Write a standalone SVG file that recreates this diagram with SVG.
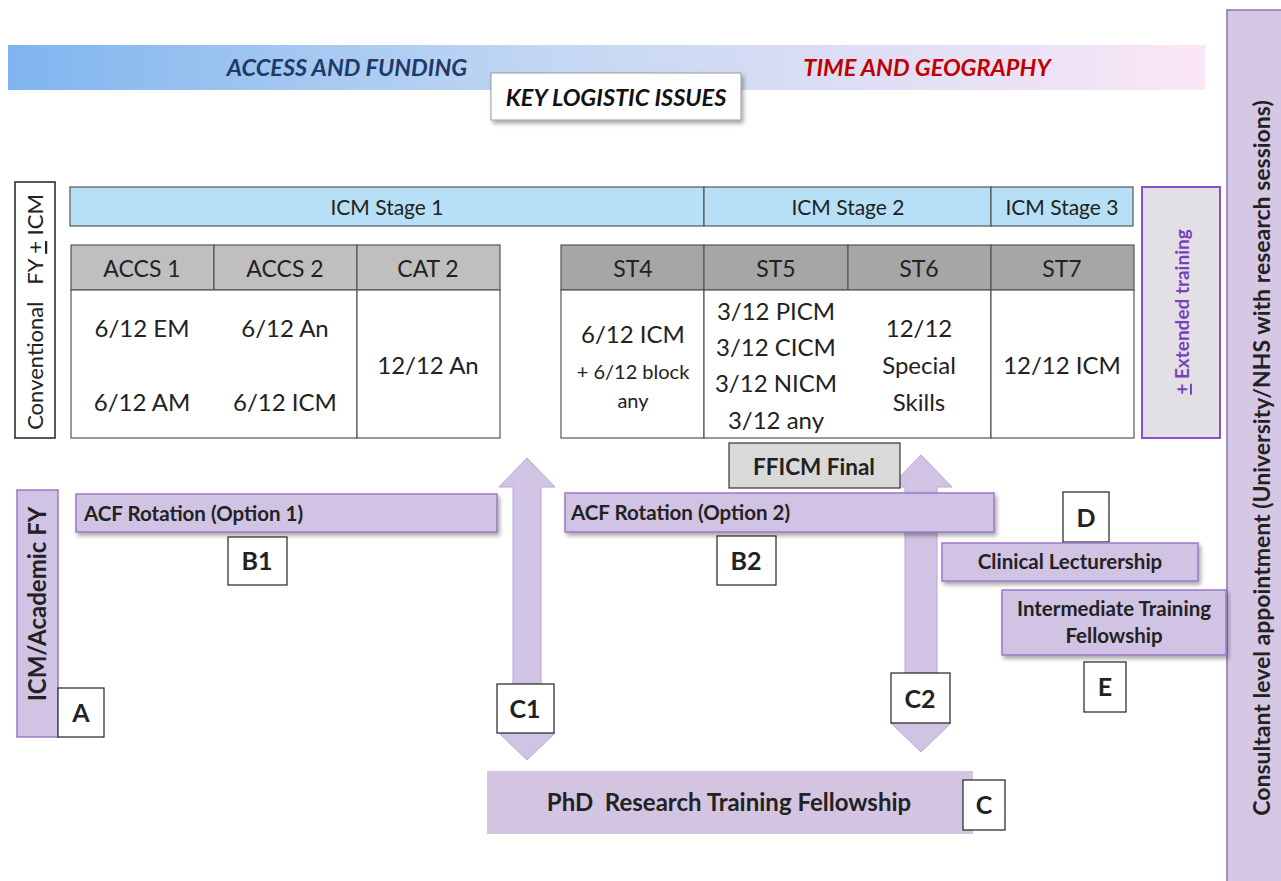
<svg xmlns="http://www.w3.org/2000/svg" width="1281" height="881" viewBox="0 0 1281 881">
<defs>
<linearGradient id="banner" x1="0" y1="0" x2="1" y2="0">
<stop offset="0" stop-color="#7fb5ef"/>
<stop offset="0.45" stop-color="#c3d7f3"/>
<stop offset="1" stop-color="#fbe6f6"/>
</linearGradient>
<filter id="sh" x="-5%" y="-20%" width="110%" height="160%">
<feDropShadow dx="2" dy="3" stdDeviation="2" flood-color="#000" flood-opacity="0.35"/>
</filter>
</defs>
<style>
text{font-family:Lato,"Open Sans","Liberation Sans",sans-serif;fill:#222}
.c{text-anchor:middle}
.b{font-weight:bold}
.stage{fill:#b7e0f6;stroke:#555;stroke-width:1.2}
.h1{fill:#bfbfbf;stroke:#555;stroke-width:1.2}
.h2{fill:#a6a6a6;stroke:#555;stroke-width:1.2}
.cell{fill:#fff;stroke:#555;stroke-width:1.2}
.pur{fill:#d1c3e3;stroke:#9a78c9;stroke-width:1.5}
.lbl{fill:#fff;stroke:#222;stroke-width:1.2}
.arr{fill:#d1c3e3;stroke:#b9a6d6;stroke-width:1}
.t24{font-size:24px}
.t23{font-size:23px}
.t20{font-size:20px}
.t21{font-size:21px}
.bar{font-size:20.5px;font-weight:bold}
.lt{font-size:25px;font-weight:bold}
.hdr{font-style:italic;font-weight:bold;font-size:23.5px}
</style>

<g id="banner-g">
<rect x="8" y="45" width="1197" height="45" fill="url(#banner)"/>
<text x="347" y="76" class="c hdr" style="fill:#1f3a66">ACCESS AND FUNDING</text>
<text x="927" y="76" class="c hdr" style="fill:#c00000">TIME AND GEOGRAPHY</text>
</g>
<g id="key-issues">
<rect x="491" y="73" width="250" height="47" fill="#fff" stroke="#999" stroke-width="1" filter="url(#sh)"/>
<text x="616" y="106" class="c hdr" style="fill:#111">KEY LOGISTIC ISSUES</text>
</g>

<g id="conventional">
<rect x="15" y="182" width="40" height="256" fill="#fff" stroke="#222" stroke-width="1.5"/>
<text transform="translate(43,312) rotate(-90)" class="c" style="font-size:22px" xml:space="preserve">Conventional   FY <tspan text-decoration="underline">+</tspan> ICM</text>
</g>

<g id="stages">
<rect x="70" y="187" width="634" height="39" class="stage"/>
<rect x="704" y="187" width="287" height="39" class="stage"/>
<rect x="991" y="187" width="142" height="39" class="stage"/>
<text x="387" y="215" class="c t21">ICM Stage 1</text>
<text x="848" y="215" class="c t21">ICM Stage 2</text>
<text x="1062" y="215" class="c t21">ICM Stage 3</text>
</g>

<g id="table1">
<rect x="71" y="245" width="143" height="45" class="h1"/>
<rect x="214" y="245" width="143" height="45" class="h1"/>
<rect x="357" y="245" width="143" height="45" class="h1"/>
<rect x="71" y="290" width="286" height="148" class="cell"/>
<rect x="357" y="290" width="143" height="148" class="cell"/>
<text x="142" y="277" class="c t23">ACCS 1</text>
<text x="285" y="277" class="c t23">ACCS 2</text>
<text x="428" y="277" class="c t23">CAT 2</text>
<text x="142" y="337" class="c t24">6/12 EM</text>
<text x="142" y="411" class="c t24">6/12 AM</text>
<text x="285" y="337" class="c t24">6/12 An</text>
<text x="285" y="411" class="c t24">6/12 ICM</text>
<text x="428" y="374" class="c t24">12/12 An</text>
</g>

<g id="table2">
<rect x="561" y="245" width="143" height="45" class="h2"/>
<rect x="704" y="245" width="144" height="45" class="h2"/>
<rect x="848" y="245" width="143" height="45" class="h2"/>
<rect x="991" y="245" width="143" height="45" class="h2"/>
<rect x="561" y="290" width="143" height="148" class="cell"/>
<rect x="704" y="290" width="287" height="148" class="cell"/>
<rect x="991" y="290" width="143" height="148" class="cell"/>
<text x="633" y="277" class="c t23">ST4</text>
<text x="776" y="277" class="c t23">ST5</text>
<text x="919" y="277" class="c t23">ST6</text>
<text x="1062" y="277" class="c t23">ST7</text>
<text x="633" y="343" class="c t24">6/12 ICM</text>
<text x="633" y="379" class="c t20">+ 6/12 block</text>
<text x="633" y="408" class="c t20">any</text>
<text x="776" y="320" class="c t24">3/12 PICM</text>
<text x="776" y="356" class="c t24">3/12 CICM</text>
<text x="776" y="392" class="c t24">3/12 NICM</text>
<text x="776" y="429" class="c t24">3/12 any</text>
<text x="919" y="337" class="c t24">12/12</text>
<text x="919" y="374" class="c t24">Special</text>
<text x="919" y="411" class="c t24">Skills</text>
<text x="1062" y="374" class="c t24">12/12 ICM</text>
</g>

<g id="extended">
<rect x="1142" y="187" width="78" height="251" fill="#e2e0e5" stroke="#8a4fd0" stroke-width="2"/>
<text transform="translate(1189,312) rotate(-90)" class="c b" style="font-size:19px;fill:#7a3fc0"><tspan text-decoration="underline">+</tspan> Extended training</text>
</g>

<g id="consultant">
<rect x="1227" y="10" width="56" height="875" fill="#d6c7e5" stroke="#8f72b4" stroke-width="1.5"/>
<text transform="translate(1270,458) rotate(-90)" class="c b" style="font-size:23px;fill:#222">Consultant level appointment (University/NHS with research sessions)</text>
</g>

<g id="connectors">
<path id="arrow-c1" class="arr" d="M527,458 L555,487 L541,487 L541,733 L555,733 L527,760 L499,733 L513,733 L513,487 L499,487 Z"/>
<path id="arrow-c2" class="arr" d="M921,455 L952,487 L937,487 L937,723 L951,723 L921,752 L891,723 L905,723 L905,487 L890,487 Z"/>
</g>

<g id="fficm">
<rect x="729" y="443" width="171" height="45" fill="#d9d9d9" stroke="#333" stroke-width="1.2"/>
<text x="814" y="475" class="c b" style="font-size:22.5px">FFICM Final</text>
</g>

<g id="academic-fy">
<rect x="17" y="490" width="41" height="247" class="pur"/>
<text transform="translate(46,604) rotate(-90)" class="c b" style="font-size:24px">ICM/Academic FY</text>
</g>
<g id="label-a">
<rect x="58" y="688" width="46" height="49" class="lbl"/>
<text x="81" y="722" class="c lt">A</text>
</g>

<g id="acf1">
<rect x="76" y="494" width="421" height="38" class="pur" filter="url(#sh)"/>
<text x="84" y="521" class="bar">ACF Rotation (Option 1)</text>
</g>
<g id="label-b1">
<rect x="228" y="537" width="59" height="48" class="lbl"/>
<text x="257" y="570" class="c lt">B1</text>
</g>

<g id="acf2">
<rect x="565" y="493" width="429" height="39" class="pur" filter="url(#sh)"/>
<text x="571" y="520" class="bar">ACF Rotation (Option 2)</text>
</g>
<g id="label-b2">
<rect x="717" y="536" width="59" height="49" class="lbl"/>
<text x="746" y="570" class="c lt">B2</text>
</g>

<g id="label-c1">
<rect x="497" y="684" width="57" height="49" class="lbl"/>
<text x="525" y="718" class="c lt">C1</text>
</g>
<g id="label-c2">
<rect x="891" y="673" width="59" height="50" class="lbl"/>
<text x="920" y="708" class="c lt">C2</text>
</g>

<g id="label-d">
<rect x="1063" y="492" width="46" height="50" class="lbl"/>
<text x="1086" y="527" class="c lt">D</text>
</g>
<g id="clinical">
<rect x="942" y="543" width="256" height="38" class="pur" filter="url(#sh)"/>
<text x="1070" y="569" class="c bar">Clinical Lecturership</text>
</g>
<g id="itf">
<rect x="1002" y="590" width="224" height="65" class="pur" filter="url(#sh)"/>
<text x="1114" y="616" class="c bar">Intermediate Training</text>
<text x="1114" y="643" class="c bar">Fellowship</text>
</g>
<g id="label-e">
<rect x="1084" y="662" width="42" height="50" class="lbl"/>
<text x="1105" y="696" class="c lt">E</text>
</g>

<g id="phd">
<rect x="487" y="771" width="486" height="63" fill="#d3c5e2"/>
<text x="729" y="811" class="c b" style="font-size:24px" xml:space="preserve">PhD  Research Training Fellowship</text>
</g>
<g id="label-c">
<rect x="963" y="780" width="42" height="50" class="lbl"/>
<text x="984" y="814" class="c lt">C</text>
</g>
</svg>
